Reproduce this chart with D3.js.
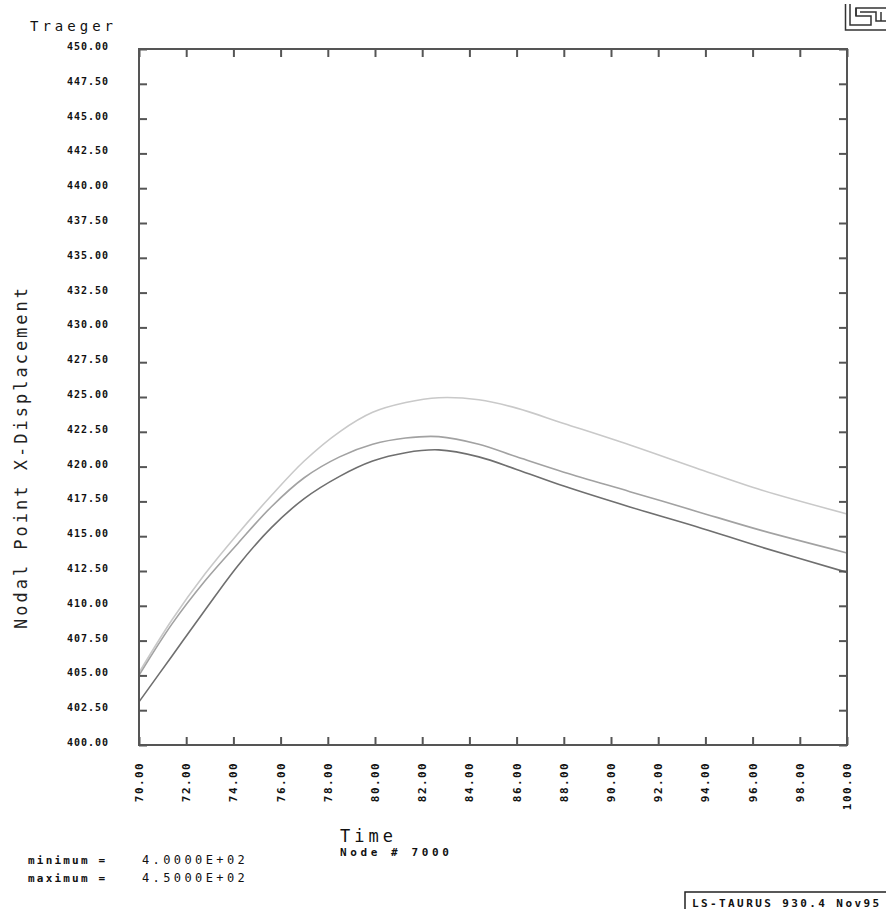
<!DOCTYPE html>
<html>
<head>
<meta charset="utf-8">
<script src="https://cdn.jsdelivr.net/npm/d3@7"></script>
<style>
  html, body { margin: 0; padding: 0; background: #fff; }
  svg { display: block; }
  text { font-family: "DejaVu Sans Mono", "Liberation Mono", monospace; }
</style>
</head>
<body>
<svg id="chart" width="886" height="909"></svg>
<script>
// ---- data ----
const times = [70, 71.4, 72.8, 74.2, 75.6, 77, 78.5, 79.9, 81.3, 82.7, 84.4, 86, 88, 90.8, 93.6, 96.4, 100];
const seriesLight  = [405.2, 409.0, 412.3, 415.2, 417.9, 420.4, 422.5, 423.9, 424.6, 424.95, 424.8, 424.2, 423.1, 421.55, 419.9, 418.3, 416.6];
const seriesMedium = [405.0, 408.7, 411.8, 414.5, 417.1, 419.2, 420.7, 421.6, 422.05, 422.15, 421.6, 420.7, 419.6, 418.2, 416.8, 415.4, 413.8];
const seriesDark   = [403.1, 406.4, 409.7, 412.9, 415.6, 417.7, 419.3, 420.4, 421.0, 421.2, 420.7, 419.8, 418.6, 417.1, 415.7, 414.2, 412.4];
const xTicks = [70, 72, 74, 76, 78, 80, 82, 84, 86, 88, 90, 92, 94, 96, 98, 100];
const yTicks = [400, 402.5, 405, 407.5, 410, 412.5, 415, 417.5, 420, 422.5, 425, 427.5, 430, 432.5, 435, 437.5, 440, 442.5, 445, 447.5, 450];
const xDomain = [70, 100];
const yDomain = [400, 450];

const svg = d3.select("#chart");
svg.append("rect").attr("width", 886).attr("height", 909).attr("fill", "#fff");

const L = 139, R = 847, T = 49, B = 745;
const x = d3.scaleLinear().domain(xDomain).range([L, R]);
const y = d3.scaleLinear().domain(yDomain).range([B, T]);

const axisColor = "#555";
const tickLen = 8;

// curves
const line = d3.line().x((d, i) => x(times[i])).y(d => y(d)).curve(d3.curveCatmullRom.alpha(0.5));
const series = [
  { values: seriesLight, color: "#c9c9c9" },
  { values: seriesMedium, color: "#a2a2a2" },
  { values: seriesDark, color: "#6f6f6f" }
];
svg.append("g").selectAll("path").data(series).join("path")
  .attr("d", d => line(d.values))
  .attr("fill", "none")
  .attr("stroke", d => d.color)
  .attr("stroke-width", 1.6);

// axes: inward ticks on all four sides
const gLeft = svg.append("g").attr("transform", `translate(${L},0)`)
  .call(d3.axisRight(y).tickValues(yTicks).tickSize(tickLen).tickFormat(""));
const gRight = svg.append("g").attr("transform", `translate(${R},0)`)
  .call(d3.axisLeft(y).tickValues(yTicks).tickSize(tickLen).tickFormat(""));
const gTop = svg.append("g").attr("transform", `translate(0,${T})`)
  .call(d3.axisBottom(x).tickValues(xTicks).tickSize(tickLen).tickFormat(""));
const gBottom = svg.append("g").attr("transform", `translate(0,${B})`)
  .call(d3.axisTop(x).tickValues(xTicks).tickSize(tickLen).tickFormat(""));
[gLeft, gRight, gTop, gBottom].forEach(g => {
  g.selectAll(".domain").remove();
  g.selectAll(".tick line").attr("stroke", axisColor).attr("stroke-width", 2);
});
// frame
svg.append("rect").attr("x", L).attr("y", T).attr("width", R - L).attr("height", B - T)
  .attr("fill", "none").attr("stroke", axisColor).attr("stroke-width", 2);

// y tick labels
const fmt = d3.format(".2f");
svg.append("g").selectAll("text").data(yTicks).join("text")
  .attr("x", 109).attr("y", d => y(d) + 1)
  .attr("text-anchor", "end")
  .attr("font-size", 10).attr("font-weight", "bold")
  .attr("letter-spacing", 1)
  .attr("fill", "#111")
  .text(d => fmt(d));

// x tick labels (rotated, reading bottom-to-top)
svg.append("g").selectAll("text").data(xTicks).join("text")
  .attr("transform", d => `translate(${x(d) + 4},762) rotate(-90)`)
  .attr("text-anchor", "end")
  .attr("font-size", 11).attr("font-weight", "bold")
  .attr("letter-spacing", 1.4)
  .attr("fill", "#111")
  .text(d => fmt(d));

// title
svg.append("text").attr("x", 30).attr("y", 31)
  .attr("font-size", 14).attr("letter-spacing", 4).attr("fill", "#111")
  .text("Traeger");

// y axis title
svg.append("text").attr("transform", "translate(27,457) rotate(-90)")
  .attr("text-anchor", "middle")
  .attr("font-size", 17).attr("letter-spacing", 3).attr("fill", "#222")
  .text("Nodal Point X-Displacement");

// x axis title
svg.append("text").attr("x", 340).attr("y", 842)
  .attr("font-size", 17).attr("letter-spacing", 4).attr("fill", "#111")
  .text("Time");
svg.append("text").attr("x", 340).attr("y", 856)
  .attr("font-size", 11).attr("font-weight", "bold").attr("letter-spacing", 3.6).attr("fill", "#111")
  .text("Node # 7000");

// min / max
const minMax = [["minimum =", "4.0000E+02"], ["maximum =", "4.5000E+02"]];
const mm = svg.append("g");
minMax.forEach((row, i) => {
  mm.append("text").attr("x", 28).attr("y", 864 + i * 18)
    .attr("font-size", 11).attr("font-weight", "bold").attr("letter-spacing", 2.2).attr("fill", "#111")
    .text(row[0]);
  mm.append("text").attr("x", 142).attr("y", 864 + i * 18)
    .attr("font-size", 12).attr("letter-spacing", 3.4).attr("fill", "#111")
    .text(row[1]);
});

// bottom right box
svg.append("rect").attr("x", 685).attr("y", 892).attr("width", 210).attr("height", 30)
  .attr("fill", "none").attr("stroke", "#222").attr("stroke-width", 1.5);
svg.append("text").attr("x", 692).attr("y", 907)
  .attr("font-size", 11).attr("font-weight", "bold").attr("letter-spacing", 2.4).attr("fill", "#111")
  .text("LS-TAURUS 930.4  Nov95");

// logo (top right, clipped by page edge)
const logo = svg.append("g").attr("fill", "none").attr("stroke", "#333").attr("stroke-width", 1.5);
const logoPaths = [
  "M845.5,4 V30 H890",
  "M850,4 V25 H871 V16 H856 V8 H877",
  "M860,12 H876 V21 H890",
  "M856,8 V16",
  "M877,8 H890",
  "M881,12 V21"
];
logo.selectAll("path").data(logoPaths).join("path").attr("d", d => d);
</script>
</body>
</html>
